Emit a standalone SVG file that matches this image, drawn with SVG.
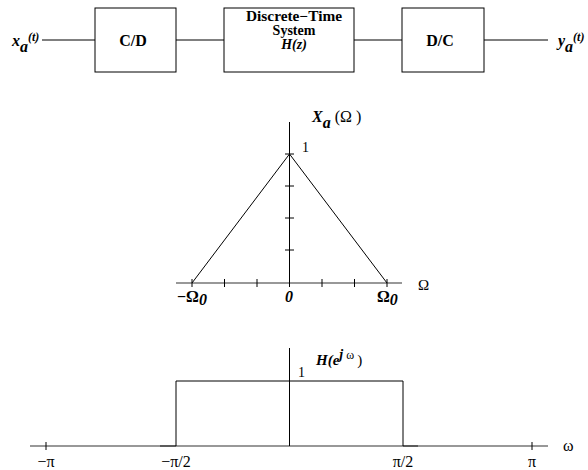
<svg xmlns="http://www.w3.org/2000/svg" width="588" height="470" viewBox="0 0 588 470">
<style>
.ln{stroke:#000;stroke-width:1;fill:none}
.ax{stroke:#333;stroke-width:1.2;fill:none}
.box{stroke:#000;stroke-width:1;fill:#fff}
.t{font-family:"Liberation Serif",serif;fill:#000}
.b{font-weight:bold}
.i{font-style:italic}
</style>
<rect width="588" height="470" fill="#fff"/>
<g id="connectors">
<line class="ln" x1="42" y1="40" x2="95" y2="40"/>
<line class="ln" x1="176" y1="40" x2="224" y2="40"/>
<line class="ln" x1="354" y1="40" x2="402" y2="40"/>
<line class="ln" x1="484" y1="40" x2="548" y2="40"/>
</g>
<g id="input">
<text class="t b i" x="12" y="46" font-size="16">x<tspan dy="6">a</tspan><tspan font-size="12" dy="-11">(t)</tspan></text>
</g>
<g id="cd">
<rect class="box" x="95" y="8" width="81" height="64"/>
<text class="t b" x="133" y="46" font-size="16" text-anchor="middle">C/D</text>
</g>
<g id="dts">
<rect class="box" x="224" y="8" width="130" height="64"/>
<text class="t b" x="294" y="21" font-size="14" text-anchor="middle" textLength="96" lengthAdjust="spacingAndGlyphs">Discrete−Time</text>
<text class="t b" x="294" y="35" font-size="14" text-anchor="middle">System</text>
<text class="t b i" x="294" y="49" font-size="14" text-anchor="middle">H(z)</text>
</g>
<g id="dc">
<rect class="box" x="402" y="8" width="82" height="64"/>
<text class="t b" x="440" y="46" font-size="16" text-anchor="middle">D/C</text>
</g>
<g id="output">
<text class="t b i" x="558" y="46" font-size="16">y<tspan dy="6">a</tspan><tspan font-size="12" dy="-11">(t)</tspan></text>
</g>
<g id="plot1">
<line class="ax" x1="176" y1="283" x2="402" y2="283"/>
<line class="ln" x1="289.5" y1="122" x2="289.5" y2="283"/>
<g class="ln">
<line x1="192" y1="279" x2="192" y2="287"/>
<line x1="224.5" y1="279" x2="224.5" y2="287"/>
<line x1="257" y1="279" x2="257" y2="287"/>
<line x1="289.5" y1="279" x2="289.5" y2="287"/>
<line x1="322" y1="279" x2="322" y2="287"/>
<line x1="354.5" y1="279" x2="354.5" y2="287"/>
<line x1="387" y1="279" x2="387" y2="287"/>
<line x1="285" y1="154" x2="294" y2="154"/>
<line x1="285" y1="186" x2="294" y2="186"/>
<line x1="285" y1="218" x2="294" y2="218"/>
<line x1="285" y1="250" x2="294" y2="250"/>
</g>
<polyline class="ln" points="192,283 289.5,154 387,283"/>
<text class="t" x="302" y="152" font-size="14">1</text>
<text class="t b i" x="312" y="122" font-size="16">X<tspan dy="6">a</tspan><tspan dy="-6" font-style="normal" font-weight="normal"> (Ω )</tspan></text>
<text class="t b" x="177" y="302" font-size="16">−Ω<tspan class="i" dy="3">0</tspan></text>
<text class="t b i" x="289" y="302" font-size="16" text-anchor="middle">0</text>
<text class="t b" x="377" y="302" font-size="16">Ω<tspan class="i" dy="3">0</tspan></text>
<text class="t" x="418" y="290" font-size="15">Ω</text>
</g>
<g id="plot2">
<line class="ax" x1="30" y1="446" x2="548" y2="446"/>
<line class="ax" x1="160" y1="446" x2="176" y2="446" stroke-width="2"/>
<line class="ax" x1="403" y1="446" x2="418" y2="446" stroke-width="2"/>
<line class="ln" x1="289.5" y1="348" x2="289.5" y2="446"/>
<polyline class="ln" points="176,446 176,381 403,381 403,446"/>
<line class="ln" x1="46" y1="442" x2="46" y2="450"/>
<line class="ln" x1="532" y1="442" x2="532" y2="450"/>
<text class="t" x="298" y="377" font-size="14">1</text>
<text class="t b i" x="316" y="365" font-size="15">H(e<tspan font-size="14" dy="-6">j</tspan><tspan font-style="normal" font-weight="normal" font-size="12"> ω </tspan><tspan dy="6" font-style="normal" font-weight="normal" font-size="15">)</tspan></text>
<text class="t" x="46" y="467" font-size="16" text-anchor="middle">−π</text>
<text class="t" x="176" y="467" font-size="16" text-anchor="middle">−π/2</text>
<text class="t" x="403" y="467" font-size="16" text-anchor="middle">π/2</text>
<text class="t" x="532" y="467" font-size="16" text-anchor="middle">π</text>
<text class="t" x="563" y="451" font-size="16">ω</text>
</g>
</svg>
